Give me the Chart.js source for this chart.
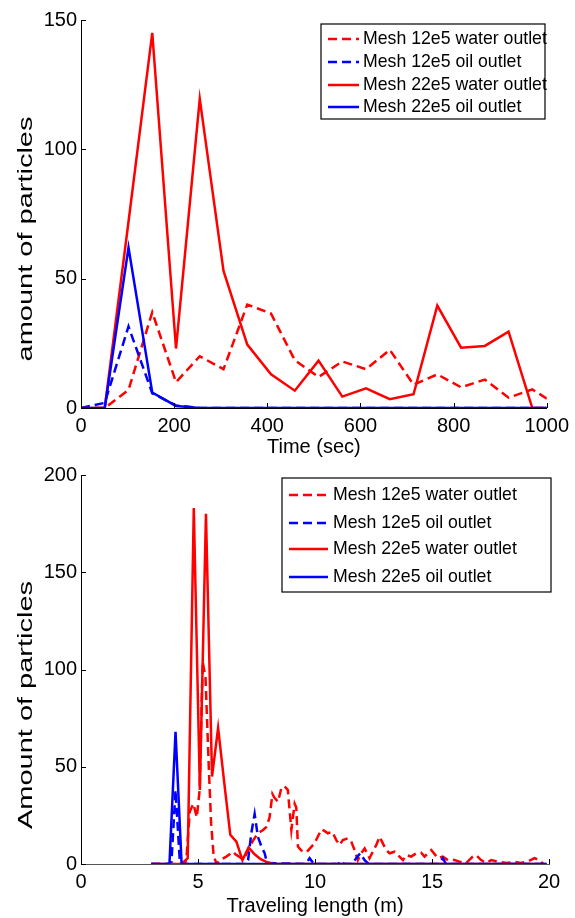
<!DOCTYPE html>
<html>
<head>
<meta charset="utf-8">
<script src="https://cdn.jsdelivr.net/npm/chart.js@4.4.1/dist/chart.umd.min.js"></script>
<style>
  html, body { margin: 0; padding: 0; background: #fff; }
  .wrap { position: absolute; left: 0; width: 575px; height: 459px; }
  #top { top: 0; }
  #bottom { top: 459px; }
</style>
</head>
<body>
<div class="wrap" id="top"><canvas id="timeChart"></canvas></div>
<div class="wrap" id="bottom"><canvas id="lengthChart"></canvas></div>
<script>
// ---- top chart: particles vs time ----
const timeSec = [0, 51, 102, 153, 204, 255, 306, 357, 408, 459, 510, 561, 612, 663, 714, 765, 816, 867, 918, 969, 1020];
const timeMesh12Water = [0, 0, 7, 37, 10, 20, 15, 40, 36.5, 18.5, 12, 18, 15, 22.5, 9, 13, 8, 11, 4, 7.2, 1.3];
const timeMesh12Oil = [0, 2, 31.5, 5.7, 1, 0, 0, 0, 0, 0, 0, 0, 0, 0, 0, 0, 0, 0, 0, 0, 0];
const timeMesh22Water = [0, 0, 72, 145, 23, 119.5, 53, 24.5, 13, 6.7, 18.3, 4.4, 7.6, 3.4, 5.3, 39.6, 23.3, 24, 29.5, 0, 0];
const timeMesh22Oil = [0, 0, 62, 6, 0.8, 0, 0, 0, 0, 0, 0, 0, 0, 0, 0, 0, 0, 0, 0, 0, 0];

// ---- bottom chart: particles vs traveling length ----
const lenMesh12WaterX = [3.0, 4.4, 4.5, 4.65, 4.8, 4.95, 5.07, 5.2, 5.32, 5.46, 5.56, 5.67, 5.8, 5.93, 6.21, 6.5, 6.6, 6.85, 7.0, 7.13, 7.35, 7.56, 7.78, 7.92, 8.06, 8.18, 8.27, 8.42, 8.56, 8.7, 8.84, 8.99, 9.13, 9.2, 9.27, 9.41, 9.63, 9.98, 10.27, 10.4, 10.55, 10.74, 10.91, 11.05, 11.19, 11.4, 11.55, 11.69, 11.83, 11.97, 12.12, 12.33, 12.62, 12.76, 12.9, 13.04, 13.19, 13.4, 13.61, 13.76, 13.9, 14.11, 14.33, 14.54, 14.68, 14.97, 15.25, 15.46, 15.68, 15.96, 16.18, 16.46, 16.74, 16.88, 17.1, 17.32, 17.53, 17.82, 18.2, 18.52, 18.8, 19.09, 19.38, 19.59, 19.73];
const lenMesh12WaterY = [0, 0, 2, 27, 31, 24, 38, 104, 96, 50, 21, 4, 0, 2, 3.8, 6.3, 5, 3, 3.5, 7, 12, 15.8, 17.5, 19, 24, 36, 34, 32, 39, 40, 38, 17.5, 31, 29, 9, 7, 6, 10.6, 17.8, 17, 15.8, 16.6, 12.3, 9.8, 12.3, 13.2, 11.5, 7.2, 2, 5.5, 8, 3, 9.8, 14, 10.6, 7.2, 5.5, 6.3, 3.8, 2, 4.6, 3.8, 5.5, 5.8, 3.8, 7.2, 3, 3.8, 2, 2, 1.2, 0.5, 3.8, 4.6, 2, 0.5, 2, 1.2, 0.5, 1.2, 0.5, 1.2, 3, 2, 0.3];

const lenMesh12OilX = [3.0, 3.86, 4.04, 4.23, 7.0, 7.14, 7.28, 7.42, 7.56, 7.71, 7.85, 7.95, 9.6, 9.77, 9.95, 11.0, 11.12, 11.25, 11.6, 11.76, 11.93, 12.12, 12.3, 15.3, 15.46, 15.6, 19.9];
const lenMesh12OilY = [0, 0, 38, 0, 0, 2, 16, 25.7, 14, 9, 5.5, 0.5, 0, 3, 0, 0, 1.7, 0, 0, 3, 5.5, 2, 0, 0, 3, 0, 0];

const lenMesh22WaterX = [3.0, 4.3, 4.56, 4.82, 5.08, 5.34, 5.6, 5.86, 6.12, 6.38, 6.64, 6.9, 7.16, 7.42, 7.68, 7.94, 8.2, 19.9];
const lenMesh22WaterY = [0, 0, 3, 183, 38, 180, 45, 70, 42, 15, 11.5, 2, 8.5, 5, 2.5, 1, 0, 0];

const lenMesh22OilX = [3.0, 3.78, 4.04, 4.3, 19.9];
const lenMesh22OilY = [0, 0, 68, 0, 0];

const seriesLabels = ["Mesh 12e5 water outlet", "Mesh 12e5 oil outlet", "Mesh 22e5 water outlet", "Mesh 22e5 oil outlet"];
const seriesColors = ["#ff0000", "#0000ff", "#ff0000", "#0000ff"];
const seriesDashes = [[9, 5], [9, 5], [], []];

const FONT = "'Liberation Sans', Arial, sans-serif";
Chart.defaults.font.family = FONT;
Chart.defaults.color = "#000";

const zip = (xs, ys) => xs.map((x, i) => ({ x: x, y: ys[i] }));

function makeDatasets(pairs) {
  return pairs.map((data, i) => ({
    label: seriesLabels[i],
    data: data,
    borderColor: seriesColors[i],
    backgroundColor: seriesColors[i],
    borderDash: seriesDashes[i],
    borderWidth: 2.5,
    pointRadius: 0,
    tension: 0,
    fill: false,
    order: 4 - i, // matlab draws later lines on top
  }));
}

// inward tick marks like matlab axes
const insideTicks = {
  id: "insideTicks",
  afterDatasetsDraw(chart) {
    const { ctx, chartArea, scales } = chart;
    ctx.save();
    ctx.strokeStyle = "#000";
    ctx.lineWidth = 1;
    scales.x.ticks.forEach((t) => {
      const px = Math.round(scales.x.getPixelForValue(t.value)) + 0.5;
      ctx.beginPath();
      ctx.moveTo(px, chartArea.bottom);
      ctx.lineTo(px, chartArea.bottom - 5);
      ctx.stroke();
    });
    scales.y.ticks.forEach((t) => {
      const py = Math.round(scales.y.getPixelForValue(t.value)) + 0.5;
      ctx.beginPath();
      ctx.moveTo(chartArea.left, py);
      ctx.lineTo(chartArea.left + 5, py);
      ctx.stroke();
    });
    ctx.restore();
  },
};

// y label of the exported figure is stretched along its length
const yLabel = {
  id: "yLabel",
  afterDraw(chart, args, opts) {
    const { ctx } = chart;
    ctx.save();
    ctx.translate(opts.x, opts.y);
    ctx.rotate(-Math.PI / 2);
    ctx.scale(opts.stretch, 1);
    ctx.font = opts.fontSize + "px " + FONT;
    ctx.textAlign = "center";
    ctx.textBaseline = "middle";
    ctx.fillStyle = "#000";
    ctx.fillText(chart.options.scales.y.title.text, 0, 0);
    ctx.restore();
  },
};

// boxed legend inside the plot
const boxLegend = {
  id: "boxLegend",
  afterDraw(chart, args, opts) {
    const { ctx } = chart;
    ctx.save();
    ctx.fillStyle = "#fff";
    ctx.fillRect(opts.left, opts.top, opts.width, opts.height);
    ctx.font = opts.fontSize + "px " + FONT;
    ctx.textBaseline = "middle";
    chart.data.datasets.forEach((ds, i) => {
      const y = opts.rows[i];
      ctx.strokeStyle = ds.borderColor;
      ctx.lineWidth = 2.5;
      ctx.setLineDash(ds.borderDash);
      ctx.beginPath();
      ctx.moveTo(opts.lineX, y);
      ctx.lineTo(opts.lineX + opts.lineW, y);
      ctx.stroke();
      ctx.setLineDash([]);
      ctx.fillStyle = "#000";
      ctx.fillText(ds.label, opts.textX, y);
    });
    ctx.strokeStyle = "#000";
    ctx.lineWidth = 1.2;
    ctx.strokeRect(opts.left, opts.top, opts.width, opts.height);
    ctx.restore();
  },
};

function makeOptions(cfg) {
  return {
    responsive: true,
    maintainAspectRatio: false,
    animation: false,
    layout: { padding: { top: cfg.padTop, right: 26, bottom: 0, left: 0 } },
    plugins: {
      legend: { display: false },
      tooltip: { enabled: false },
      boxLegend: cfg.legend,
      yLabel: cfg.yLabel,
    },
    scales: {
      x: {
        type: "linear",
        min: cfg.xMin,
        max: cfg.xMax,
        grid: { display: false, drawTicks: false },
        border: { display: true, color: cfg.xAxisColor, width: 1 },
        ticks: { stepSize: cfg.xStep, padding: 6, font: { size: 20 }, maxRotation: 0, callback: (v) => String(v) },
        title: { display: true, text: cfg.xTitle, font: { size: 20 }, padding: { top: 0, bottom: 0 } },
        afterFit: (scale) => { scale.height = cfg.xHeight; },
      },
      y: {
        min: cfg.yMin,
        max: cfg.yMax,
        grid: { display: false, drawTicks: false },
        border: { display: true, color: "#000", width: 1 },
        ticks: { stepSize: cfg.yStep, padding: 4, font: { size: 20 }, callback: (v) => String(v) },
        title: { display: false, text: cfg.yTitle },
        afterFit: (scale) => { scale.width = 81; },
      },
    },
  };
}

new Chart(document.getElementById("timeChart"), {
  type: "line",
  data: {
    datasets: makeDatasets([
      zip(timeSec, timeMesh12Water),
      zip(timeSec, timeMesh12Oil),
      zip(timeSec, timeMesh22Water),
      zip(timeSec, timeMesh22Oil),
    ]),
  },
  options: makeOptions({
    padTop: 20, xHeight: 51,
    xMin: 0, xMax: 1000, xStep: 200, xTitle: "Time (sec)", xAxisColor: "#000",
    yMin: 0, yMax: 150, yStep: 50, yTitle: "amount of particles",
    yLabel: { x: 26, y: 239, fontSize: 21, stretch: 1.38 },
    legend: { left: 321, top: 24, width: 224, height: 95, rows: [39, 62, 85, 107], lineX: 328, lineW: 31, textX: 363, fontSize: 17.7 },
  }),
  plugins: [insideTicks, boxLegend, yLabel],
});

new Chart(document.getElementById("lengthChart"), {
  type: "line",
  data: {
    datasets: makeDatasets([
      zip(lenMesh12WaterX, lenMesh12WaterY),
      zip(lenMesh12OilX, lenMesh12OilY),
      zip(lenMesh22WaterX, lenMesh22WaterY),
      zip(lenMesh22OilX, lenMesh22OilY),
    ]),
  },
  options: makeOptions({
    padTop: 16, xHeight: 54,
    xMin: 0, xMax: 20, xStep: 5, xTitle: "Traveling length (m)", xAxisColor: "#555",
    yMin: 0, yMax: 200, yStep: 50, yTitle: "Amount of particles",
    yLabel: { x: 26, y: 246, fontSize: 21, stretch: 1.38 },
    legend: { left: 282, top: 19, width: 269, height: 114, rows: [36, 64, 90, 118], lineX: 289, lineW: 39, textX: 333, fontSize: 17.7 },
  }),
  plugins: [insideTicks, boxLegend, yLabel],
});
</script>
</body>
</html>
